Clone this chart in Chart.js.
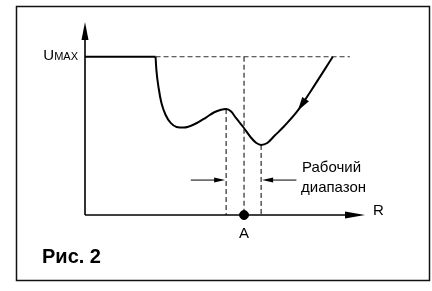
<!DOCTYPE html>
<html>
<head>
<meta charset="utf-8">
<script src="https://cdn.jsdelivr.net/npm/chart.js@4/dist/chart.umd.min.js"></script>
<style>
  html, body { margin: 0; padding: 0; background: #fff; }
  #wrap { width: 432px; height: 291px; position: relative; }
</style>
</head>
<body>
<div id="wrap"><canvas id="c" width="432" height="291"></canvas></div>
<script>
// ---- data (arbitrary units: R on x 0..100, U on y 0..100) ----
const U_MAX = 82;
const flatR = [0, 25.2];
const flatU = [U_MAX, U_MAX];
const curveR = [25.2, 25.5, 26.3, 27.3, 28.8, 30.6, 32.7, 35.3, 39.6, 43.2, 46.0, 48.6, 50.4, 52.2, 53.9, 56.5, 59.4, 61.2, 62.9, 65.1, 67.6, 71.2, 75.9, 80.9, 88.5];
const curveU = [82, 75.1, 65.8, 58.0, 51.8, 47.7, 45.6, 45.3, 47.4, 50.5, 53.1, 54.5, 54.9, 53.6, 50.3, 45.6, 39.9, 37.3, 36.3, 37.3, 40.9, 46.1, 53.9, 64.8, 82];
const dashLevelEnd = 94.6;           // dashed U_MAX level ends here
const leftEdgeR = 50.4, leftEdgeU = 54.9;   // left edge of working range (local max)
const pointA_R = 56.8;               // point A
const rightEdgeR = 62.9, rightEdgeU = 36.3; // right edge (minimum)
const rangeArrowU = 18.1;            // height of range arrows
const leftArrowFrom = 37.8, rightArrowFrom = 75.5;
const arrowOnCurve = [{x: 79.0, y: 60.5}, {x: 76.0, y: 54.0}]; // direction arrow on curve
const labels = { umaxU: "U", umaxSub: "MAX", xName: "R", pointName: "A", range1: "Рабочий", range2: "диапазон", caption: "Рис. 2" };

const toXY = (xs, ys) => xs.map((x, i) => ({x, y: ys[i]}));

const FONT = '"Liberation Sans", Arial, sans-serif';

function arrowHead(ctx, x1, y1, x2, y2, len, half) {
  const a = Math.atan2(y2 - y1, x2 - x1);
  ctx.beginPath();
  ctx.moveTo(x2, y2);
  ctx.lineTo(x2 - len * Math.cos(a) + half * Math.sin(a), y2 - len * Math.sin(a) - half * Math.cos(a));
  ctx.lineTo(x2 - len * Math.cos(a) - half * Math.sin(a), y2 - len * Math.sin(a) + half * Math.cos(a));
  ctx.closePath();
  ctx.fill();
}

const decor = {
  id: 'decor',
  beforeDatasetsDraw(chart) {
    const ctx = chart.ctx, xs = chart.scales.x, ys = chart.scales.y, ca = chart.chartArea;
    ctx.save();
    // frame
    ctx.strokeStyle = '#111'; ctx.lineWidth = 1.5;
    ctx.strokeRect(16.5, 6.5, 413, 274);
    // axes
    ctx.fillStyle = '#000'; ctx.strokeStyle = '#000'; ctx.lineWidth = 1.6;
    const x0 = xs.getPixelForValue(0), y0 = ys.getPixelForValue(0);
    ctx.beginPath(); ctx.moveTo(x0, y0); ctx.lineTo(x0, ca.top + 10); ctx.stroke();
    arrowHead(ctx, x0, y0, x0, ca.top, 18, 3.5);
    ctx.beginPath(); ctx.moveTo(x0, y0); ctx.lineTo(ca.right - 10, y0); ctx.stroke();
    arrowHead(ctx, x0, y0, ca.right, y0, 20, 3.5);
    // range arrows
    ctx.lineWidth = 1;
    const ya = ys.getPixelForValue(rangeArrowU);
    const lf = xs.getPixelForValue(leftArrowFrom), lt = xs.getPixelForValue(leftEdgeR) - 1;
    ctx.beginPath(); ctx.moveTo(lf, ya); ctx.lineTo(lt - 6, ya); ctx.stroke();
    arrowHead(ctx, lf, ya, lt, ya, 11, 2.5);
    const rf = xs.getPixelForValue(rightArrowFrom), rt = xs.getPixelForValue(rightEdgeR) + 1;
    ctx.beginPath(); ctx.moveTo(rf, ya); ctx.lineTo(rt + 6, ya); ctx.stroke();
    arrowHead(ctx, rf, ya, rt, ya, 11, 2.5);
    ctx.restore();
  },
  afterDatasetsDraw(chart) {
    const ctx = chart.ctx, xs = chart.scales.x, ys = chart.scales.y, ca = chart.chartArea;
    ctx.save();
    ctx.fillStyle = '#000';
    // arrow on curve
    const p1 = arrowOnCurve[0], p2 = arrowOnCurve[1];
    arrowHead(ctx, xs.getPixelForValue(p1.x), ys.getPixelForValue(p1.y), xs.getPixelForValue(p2.x), ys.getPixelForValue(p2.y), 14, 4);
    // texts
    ctx.textBaseline = 'alphabetic';
    const yU = ys.getPixelForValue(U_MAX);
    ctx.font = '11px ' + FONT; ctx.textAlign = 'right';
    const subW = ctx.measureText(labels.umaxSub).width;
    ctx.fillText(labels.umaxSub, 78, yU + 3);
    ctx.font = '15px ' + FONT;
    ctx.fillText(labels.umaxU, 78 - subW, yU + 3);
    ctx.textAlign = 'left';
    ctx.font = '15px ' + FONT;
    ctx.fillText(labels.xName, ca.right + 8, ys.getPixelForValue(0));
    ctx.textAlign = 'center';
    ctx.fillText(labels.pointName, xs.getPixelForValue(pointA_R), ys.getPixelForValue(0) + 23);
    ctx.textAlign = 'left';
    ctx.fillText(labels.range1, 302, 172);
    ctx.fillText(labels.range2, 301, 192);
    ctx.font = 'bold 20px ' + FONT;
    ctx.fillText(labels.caption, 42, 263);
    ctx.restore();
  }
};

const dash = [5, 3];
new Chart(document.getElementById('c'), {
  type: 'scatter',
  data: {
    datasets: [
      { data: toXY(flatR, flatU), showLine: true, borderColor: '#000', borderWidth: 2, pointRadius: 0, tension: 0 },
      { data: toXY(curveR, curveU), showLine: true, borderColor: '#000', borderWidth: 2, pointRadius: 0, tension: 0.4, cubicInterpolationMode: 'monotone' },
      { data: [{x: flatR[1], y: U_MAX}, {x: dashLevelEnd, y: U_MAX}], showLine: true, borderColor: '#333', borderWidth: 1, borderDash: dash, pointRadius: 0 },
      { data: [{x: leftEdgeR, y: leftEdgeU}, {x: leftEdgeR, y: 0}], showLine: true, borderColor: '#000', borderWidth: 1, borderDash: dash, pointRadius: 0 },
      { data: [{x: pointA_R, y: U_MAX}, {x: pointA_R, y: 0}], showLine: true, borderColor: '#000', borderWidth: 1, borderDash: dash, pointRadius: 0 },
      { data: [{x: rightEdgeR, y: rightEdgeU}, {x: rightEdgeR, y: 0}], showLine: true, borderColor: '#000', borderWidth: 1, borderDash: dash, pointRadius: 0 },
      { data: [{x: pointA_R, y: 0}], showLine: false, backgroundColor: '#000', borderColor: '#000', pointRadius: 4.5 }
    ]
  },
  options: {
    responsive: false,
    animation: false,
    clip: false,
    layout: { padding: { left: 85, right: 67, top: 22, bottom: 76 } },
    scales: {
      x: { type: 'linear', min: 0, max: 100, display: false },
      y: { type: 'linear', min: 0, max: 100, display: false }
    },
    plugins: { legend: { display: false }, tooltip: { enabled: false } }
  },
  plugins: [decor]
});
</script>
</body>
</html>
